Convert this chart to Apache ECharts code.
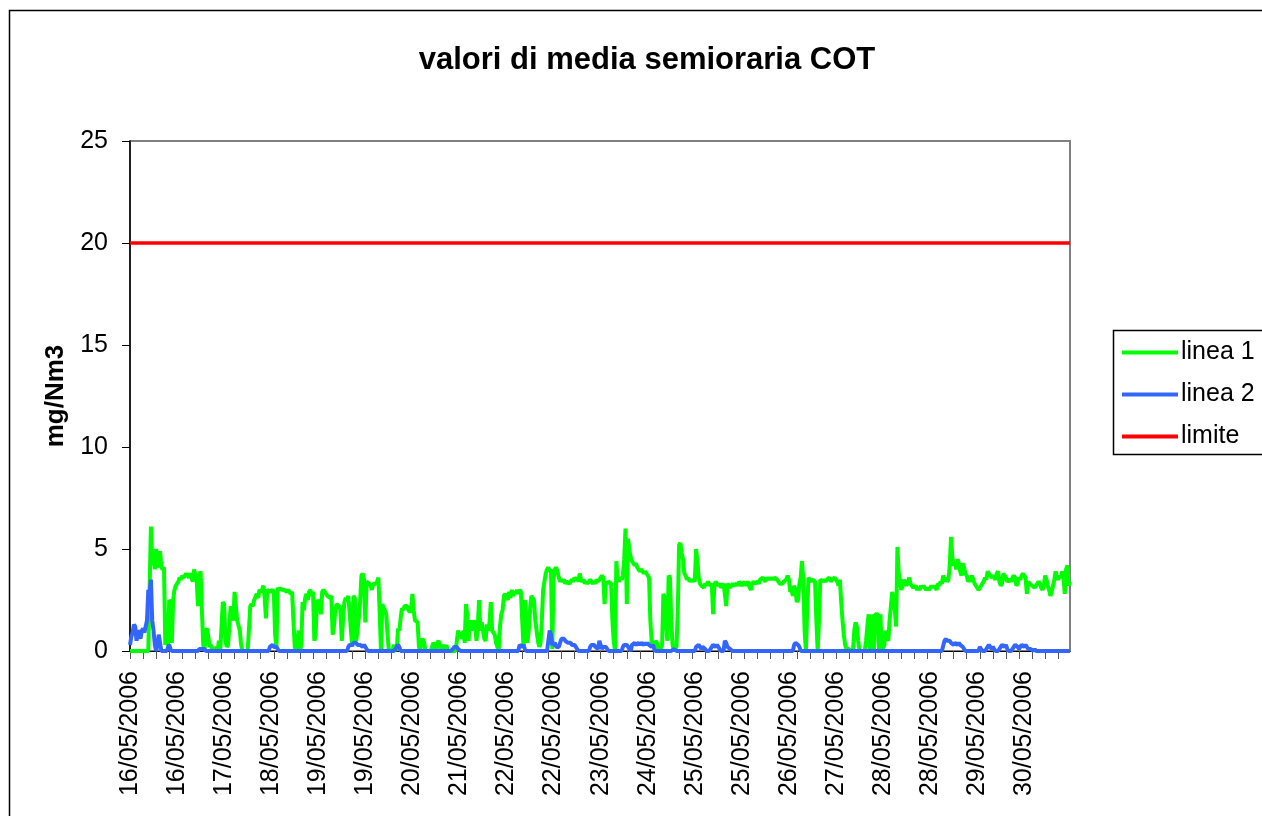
<!DOCTYPE html>
<html>
<head>
<meta charset="utf-8">
<title>valori di media semioraria COT</title>
<script src="https://cdn.jsdelivr.net/npm/echarts@6/dist/echarts.min.js"></script>
<style>
  html, body { margin: 0; padding: 0; background: #fff; }
  #chart { width: 1262px; height: 816px; }
</style>
</head>
<body>
<div id="chart"></div>
<script>
// giorni del periodo, 48 medie semiorarie per giorno
var giorni = ['16/05/2006', '17/05/2006', '18/05/2006', '19/05/2006', '20/05/2006',
  '21/05/2006', '22/05/2006', '23/05/2006', '24/05/2006', '25/05/2006',
  '26/05/2006', '27/05/2006', '28/05/2006', '29/05/2006', '30/05/2006'];
var mediePerGiorno = 48;
var limite = 20;

// linea 1 (una riga per giorno)
var linea1 = [
  0,0,0,0,0,0,0,0,0,0,0,0,0,0,0,0,6.1,4.2,5.0,4.0,5.0,4.3,4.1,4.9,4.1,4.0,4.1,0.3,1.5,0.2,2.5,2.4,0.4,2.5,3.0,3.2,3.3,3.4,3.6,3.5,3.7,3.6,3.7,3.8,3.7,3.6,3.8,3.6,
  3.4,4.0,4.0,3.5,2.2,3.7,3.9,2.0,0.3,0.0,1.0,1.1,1.1,0.2,0.3,0.0,0.0,0.0,0.2,0.0,0.5,0.0,0.0,2.4,2.3,0.5,0.2,0.3,0.3,2.2,2.2,1.5,2.9,2.9,1.5,1.5,1.0,0.3,0.0,0.0,0.0,0.0,0.0,0.0,2.2,2.3,2.2,2.5,
  2.5,2.8,2.6,3.0,2.9,3.0,3.2,2.6,1.6,3.0,3.0,2.9,2.9,3.0,2.9,0.8,0.2,3.1,3.0,3.1,3.0,3.0,3.0,3.0,2.9,3.0,3.0,2.8,2.9,1.5,0.2,0.0,0.5,1.0,0.0,0.3,2.4,2.0,2.6,2.8,2.5,2.9,3.0,2.7,2.9,0.5,0.8,2.5,
  2.4,2.5,1.8,2.9,3.0,3.0,2.8,2.7,2.7,2.6,2.7,0.8,1.2,2.0,2.3,2.3,2.2,2.0,0.5,1.6,2.4,2.6,2.5,2.7,2.7,1.0,0.2,2.7,2.6,0.5,1.0,1.6,2.4,3.7,3.8,3.5,1.4,3.4,3.4,3.3,3.2,3.0,3.3,3.3,3.3,3.4,3.6,3.6,
  0.0,2.3,2.1,2.0,1.8,0.8,0.0,0.0,0.0,0.1,0.3,0.3,0.0,1.1,1.0,1.6,2.1,2.0,2.2,2.2,2.2,2.0,1.9,2.0,2.8,2.0,1.5,1.5,1.4,0.2,0.0,0.5,0.6,0.4,0.0,0.0,0.0,0.0,0.0,0.0,0.4,0.3,0.0,0.4,0.5,0.3,0.0,0.3,
  0.3,0.0,0.3,0.0,0.0,0.0,0.0,0.0,0.0,0.0,0.0,1.0,0.8,0.9,0.6,1.0,0.4,2.3,1.8,0.5,1.5,1.5,1.0,1.5,1.3,0.5,1.2,2.5,1.0,1.4,1.4,0.6,0.5,1.3,1.0,1.4,2.4,1.0,1.0,0.8,0.4,0.2,0.0,1.2,1.8,2.0,2.7,2.8,
  2.8,2.5,2.9,2.6,3.0,2.7,2.9,2.8,3.0,2.8,3.0,2.9,1.5,0.2,2.5,1.8,0.4,1.0,2.0,2.7,2.6,2.5,1.5,1.0,0.5,0.2,0.4,1.5,3.0,3.4,3.8,4.0,4.1,3.9,4.0,0.1,3.6,4.0,4.1,3.9,3.6,3.4,3.5,3.4,3.5,3.3,3.4,3.4,
  3.3,3.4,3.5,3.4,3.6,3.5,3.6,3.4,3.8,3.5,3.4,3.5,3.3,3.4,3.3,3.3,3.5,3.4,3.3,3.4,3.3,3.5,3.4,3.5,3.6,3.7,3.6,2.3,3.4,3.3,3.4,3.4,3.3,1.5,0.5,0.0,4.4,3.5,3.4,3.6,3.5,3.7,4.5,6.0,2.3,5.5,4.9,4.6,
  4.4,4.3,4.2,4.3,4.1,4.0,3.9,4.0,3.9,3.8,3.9,3.8,3.7,3.6,1.5,0.5,0.3,0.2,0.5,0.4,0.1,0.0,0.0,0.3,2.8,2.6,1.5,0.5,3.7,3.6,1.5,0.3,0.0,0.0,0.2,2.0,5.2,5.3,4.8,4.5,3.8,3.7,3.5,3.6,3.4,3.5,3.4,3.5,
  3.4,5.0,4.4,3.6,3.3,3.2,3.2,3.1,3.3,3.2,3.4,3.4,3.2,3.3,1.8,3.2,3.4,3.4,3.2,3.3,3.1,3.2,3.3,2.8,2.2,3.3,3.3,3.1,3.2,3.3,3.2,3.2,3.3,3.2,3.4,3.3,3.2,3.3,3.4,3.2,3.3,3.4,3.1,3.0,3.3,3.4,3.3,3.3,
  3.4,3.3,3.5,3.5,3.6,3.5,3.4,3.6,3.5,3.6,3.5,3.6,3.5,3.6,3.6,3.5,3.4,3.3,3.3,3.3,3.4,3.4,3.5,3.7,3.5,2.9,3.0,2.7,3.2,3.0,2.4,2.5,3.3,3.6,4.4,3.5,1.0,0.0,2.0,3.6,3.5,3.4,3.5,3.5,3.4,1.5,0.0,1.5,
  3.5,3.5,3.4,3.5,3.4,3.5,3.5,3.6,3.4,3.5,3.5,3.6,3.5,3.4,3.2,3.5,2.4,1.5,0.8,0.3,0.1,0.1,0.1,0.0,0.0,0.0,1.0,1.4,1.2,0.5,0.0,0.0,0.0,0.0,0.0,0.5,1.2,1.8,0.0,1.8,1.8,0.0,1.8,1.8,1.8,0.0,1.8,0.0,
  0.0,0.3,1.0,0.8,0.5,1.5,2.2,2.9,2.9,2.0,1.2,5.1,3.8,3.4,3.0,3.2,3.5,3.3,3.2,3.4,3.6,3.3,3.2,3.1,3.1,3.2,3.0,3.1,3.0,3.2,3.1,3.2,3.1,3.0,3.1,3.0,3.0,3.2,3.1,3.2,3.1,3.0,3.3,3.2,3.4,3.3,3.7,3.4,
  3.6,3.4,3.5,4.2,5.6,4.6,4.2,4.3,4.0,4.5,4.3,3.9,3.7,4.3,4.1,3.8,3.7,3.4,3.5,3.4,3.7,3.5,3.3,3.2,3.1,3.0,3.0,3.2,3.3,3.4,3.6,3.5,3.9,3.8,3.7,3.6,3.7,3.6,3.5,3.8,3.9,3.4,3.2,3.3,3.8,3.7,3.6,3.4,
  3.4,3.5,3.4,3.6,3.7,3.6,3.2,3.3,3.6,3.5,3.7,3.8,3.7,3.6,2.8,3.4,3.3,3.3,3.2,3.2,3.1,3.2,3.3,3.4,3.3,3.1,3.0,3.2,3.7,3.5,3.2,3.0,2.7,2.9,3.2,3.5,3.9,3.6,3.5,3.7,3.6,3.9,3.6,2.8,4.0,4.2,3.2,3.4
];

// linea 2 (una riga per giorno)
var linea2 = [
  0.3,0.7,0.9,1.3,1.2,0.5,1.0,0.9,0.6,1.0,1.1,0.9,1.2,1.5,3.0,2.9,3.5,1.5,1.0,0.3,0,0.3,0.8,0.4,0,0,0,0,0,0,0.3,0.1,0,0,0,0,0,0,0,0,0,0,0,0,0,0,0,0,
  0,0,0,0,0,0.1,0.1,0.1,0.1,0.1,0,0,0,0,0,0,0,0,0,0,0,0,0,0,0,0,0,0,0,0,0,0,0,0,0,0,0,0,0,0,0,0,0,0,0,0,0,0,
  0,0,0,0,0,0,0,0,0,0,0,0.2,0.2,0.3,0.2,0.2,0.2,0.1,0,0,0,0,0,0,0,0,0,0,0,0,0,0,0,0,0,0,0,0,0,0,0,0,0,0,0,0,0,0,
  0,0,0,0,0,0,0,0,0,0,0,0,0,0,0,0,0,0,0,0,0,0,0,0.2,0.3,0.3,0.3,0.4,0.4,0.4,0.3,0.3,0.3,0.3,0.2,0.3,0.2,0.1,0,0,0,0,0,0,0,0,0,0,
  0,0,0,0,0,0,0,0,0,0,0,0,0.2,0.3,0.2,0,0,0,0,0,0,0,0,0,0,0,0,0,0,0,0,0,0,0,0,0,0,0,0,0,0,0,0,0,0,0,0,0,
  0,0,0,0,0,0,0,0.1,0.2,0.2,0.2,0.1,0.1,0,0,0,0,0,0,0,0,0,0,0,0,0,0,0,0,0,0,0,0,0,0,0,0,0,0,0,0,0,0,0,0,0,0,0,
  0,0,0,0,0,0,0,0,0,0,0.3,0.3,0.2,0.3,0.1,0,0,0,0,0,0,0,0,0,0,0,0,0,0,0,0,0,0,1.0,0.8,0.3,0.3,0.4,0.2,0.2,0.2,0.2,0.6,0.6,0.6,0.5,0.5,0.4,
  0.4,0.4,0.3,0.3,0.3,0.2,0.1,0,0,0,0,0,0,0,0,0,0.2,0.3,0.3,0.3,0.2,0.2,0.1,0.5,0.5,0.1,0.2,0.2,0.2,0.1,0,0,0,0,0,0,0,0,0,0,0,0.2,0.3,0.3,0.3,0.2,0.1,0,
  0.3,0.3,0.4,0.3,0.3,0.4,0.3,0.4,0.4,0.3,0.4,0.3,0.4,0.3,0.3,0.2,0.3,0.1,0,0,0,0,0,0,0,0,0,0,0,0,0,0,0.1,0.1,0,0,0,0,0,0,0,0,0,0,0,0,0,0,
  0,0.2,0.2,0.3,0.2,0.1,0.2,0.2,0.1,0,0,0,0,0.2,0.3,0.3,0.2,0.3,0.2,0.1,0,0,0,0.5,0.4,0.2,0.2,0.1,0.1,0,0,0,0,0,0,0,0,0,0,0,0,0,0,0,0,0,0,0,
  0,0,0,0,0,0,0,0,0,0,0,0,0,0,0,0,0,0,0,0,0,0,0,0,0,0,0,0,0.3,0.4,0.4,0.3,0.2,0,0,0,0,0,0,0,0,0,0,0,0,0,0,0,
  0,0,0,0,0,0,0,0,0,0,0,0,0,0,0,0,0,0,0,0,0,0,0,0,0,0,0,0,0,0,0,0,0,0,0,0,0,0,0,0,0,0,0,0,0,0,0,0,
  0,0,0,0,0,0,0,0,0,0,0,0,0,0,0,0,0,0,0,0,0,0,0,0,0,0,0,0,0,0,0,0,0,0,0,0,0,0,0,0,0,0,0,0,0,0,0,0.5,
  0.6,0.5,0.5,0.5,0.4,0.4,0.3,0.4,0.4,0.3,0.4,0.3,0.3,0.2,0.1,0,0,0,0,0,0,0,0,0,0,0,0.2,0.1,0,0,0,0,0.2,0.3,0.2,0.1,0.2,0.1,0,0,0,0,0.2,0.3,0.3,0.2,0.3,0.1,
  0,0,0,0,0.2,0.3,0.3,0.2,0.1,0.2,0.3,0.3,0.2,0.3,0.2,0.1,0.1,0.1,0.1,0,0.1,0,0,0,0,0,0,0,0,0,0,0,0,0,0,0,0,0,0,0,0,0,0,0,0,0,0,0
];

// etichette dell'asse x: ogni media semioraria porta la data del suo giorno
var categorie = [];
giorni.forEach(function (g) {
  for (var k = 0; k < mediePerGiorno; k++) categorie.push(g);
});

var font = "'Liberation Sans', Arial, sans-serif";

var chart = echarts.init(document.getElementById('chart'));
chart.setOption({
  animation: false,
  backgroundColor: '#fff',
  title: {
    text: 'valori di media semioraria COT',
    left: 642,
    textAlign: 'center',
    top: 40,
    textStyle: { fontFamily: font, fontSize: 31, fontWeight: 'bold', color: '#000' }
  },
  // cornice del grafico e riquadro della legenda (tagliati dal bordo destro)
  graphic: [{
    type: 'rect',
    silent: true,
    shape: { x: 9.5, y: 10.5, width: 1400, height: 1000 },
    style: { fill: 'none', stroke: '#000', lineWidth: 1.5 }
  }, {
    type: 'rect',
    silent: true,
    shape: { x: 1113.5, y: 330.5, width: 300, height: 124 },
    style: { fill: 'none', stroke: '#000', lineWidth: 1.5 }
  }],
  legend: {
    orient: 'vertical',
    left: 1113,
    top: 330,
    data: ['linea 1', 'linea 2', 'limite'],
    icon: 'rect',
    itemWidth: 56,
    itemHeight: 4,
    itemGap: 17,
    padding: [10, 4, 6, 9],
    textStyle: { fontFamily: font, fontSize: 25, color: '#000', padding: [0, 0, 0, -2] }
  },
  grid: {
    left: 130, right: 192, top: 141, bottom: 165,
    show: true,
    borderColor: '#808080',
    borderWidth: 2
  },
  xAxis: {
    type: 'category',
    data: categorie,
    boundaryGap: false,
    axisLine: { lineStyle: { color: '#000', width: 1 } },
    axisTick: { interval: 9, length: 8, lineStyle: { color: '#555' } },
    axisLabel: {
      interval: 35,
      rotate: 90,
      margin: 20,
      fontFamily: font,
      fontSize: 25,
      color: '#000'
    },
    splitLine: { show: false }
  },
  yAxis: {
    type: 'value',
    min: 0,
    max: 25,
    interval: 5,
    name: 'mg/Nm3',
    nameLocation: 'middle',
    nameGap: 56,
    nameTextStyle: { fontFamily: font, fontSize: 26, fontWeight: 'bold', color: '#000' },
    axisLine: { show: true, lineStyle: { color: '#000', width: 1.5 } },
    axisTick: { show: true, length: 8, lineStyle: { color: '#000' } },
    axisLabel: { margin: 22, fontFamily: font, fontSize: 25, color: '#000' },
    splitLine: { show: false }
  },
  series: [
    {
      name: 'linea 1',
      type: 'line',
      data: linea1,
      symbol: 'none',
      color: '#00FF00',
      lineStyle: { width: 4, color: '#00FF00' }
    },
    {
      name: 'linea 2',
      type: 'line',
      data: linea2,
      symbol: 'none',
      color: '#3366FF',
      lineStyle: { width: 4, color: '#3366FF' }
    },
    {
      name: 'limite',
      type: 'line',
      data: [[0, limite], [categorie.length - 1, limite]],
      symbol: 'none',
      color: '#FF0000',
      lineStyle: { width: 3.5, color: '#FF0000' }
    }
  ]
});
</script>
</body>
</html>
